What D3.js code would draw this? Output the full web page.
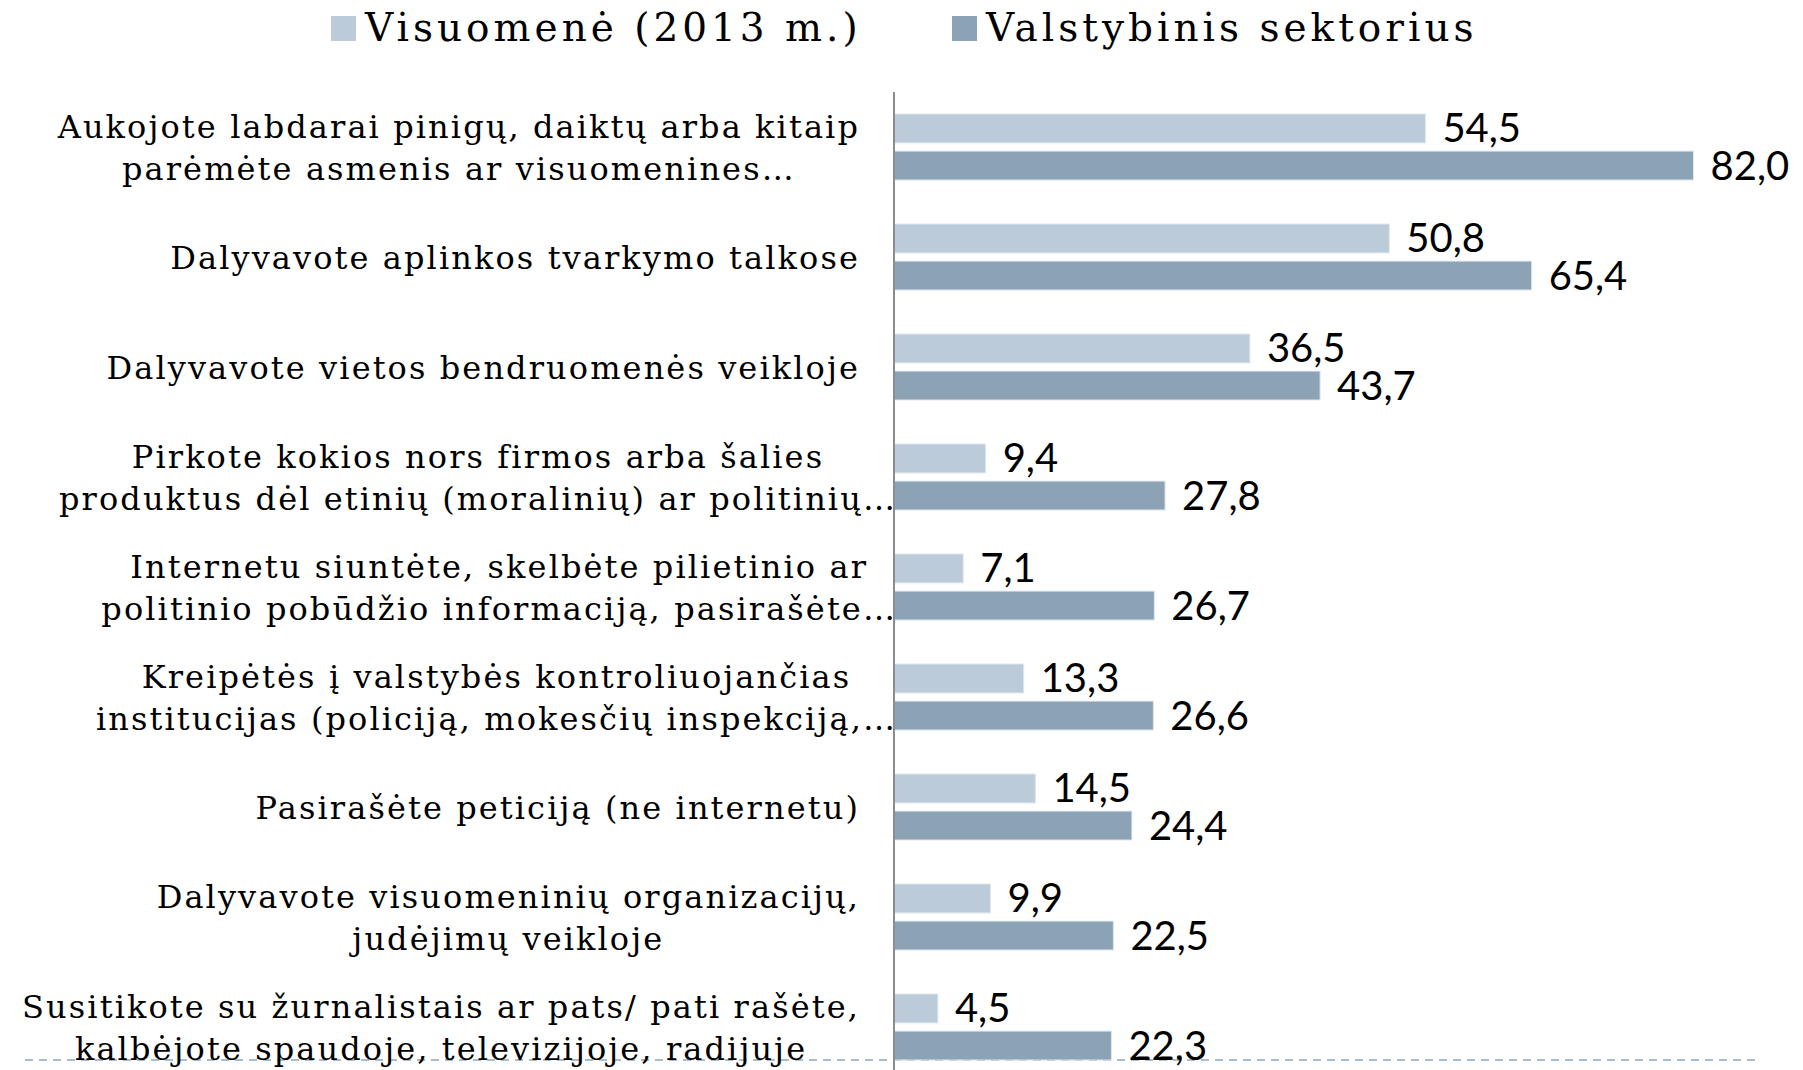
<!DOCTYPE html>
<html>
<head>
<meta charset="utf-8">
<script src="https://cdn.jsdelivr.net/npm/d3@7"></script>
<style>
  body { margin: 0; background: #fff; }
  svg { display: block; }
</style>
</head>
<body>
<script>
// chart data
const categories = [
    ['Aukojote labdarai pinigų, daiktų arba kitaip', 'parėmėte asmenis ar visuomenines…'],
    ['Dalyvavote aplinkos tvarkymo talkose'],
    ['Dalyvavote vietos bendruomenės veikloje'],
    ['Pirkote kokios nors firmos arba šalies', 'produktus dėl etinių (moralinių) ar politinių…'],
    ['Internetu siuntėte, skelbėte pilietinio ar', 'politinio pobūdžio informaciją,  pasirašėte…'],
    ['Kreipėtės į valstybės kontroliuojančias', 'institucijas (policiją, mokesčių inspekciją,…'],
    ['Pasirašėte peticiją (ne internetu)'],
    ['Dalyvavote visuomeninių organizacijų,', 'judėjimų veikloje'],
    ['Susitikote su žurnalistais ar pats/ pati rašėte,', 'kalbėjote spaudoje, televizijoje, radijuje']
]
const seriesNames = ['Visuomenė (2013 m.)', 'Valstybinis sektorius']
const visuomene = [54.5, 50.8, 36.5, 9.4, 7.1, 13.3, 14.5, 9.9, 4.5]
const valstybinis = [82.0, 65.4, 43.7, 27.8, 26.7, 26.6, 24.4, 22.5, 22.3]
const seriesColors = ['#bccbda', '#8ca2b5']

const width = 1803, height = 1070
const axisX = 894
const labelRight = 860

var svg = d3.select('body')
    .append('svg')
    .attr('width', width)
    .attr('height', height)

var rows = categories.map((c, i) => ({ idx: i, lines: c, values: [visuomene[i], valstybinis[i]] }))

var x = d3.scaleLinear()
    .domain([0, 100])
    .range([axisX, axisX + 975])

var y = d3.scaleBand()
    .domain(d3.range(categories.length))
    .range([92, 92 + 110 * categories.length])
    .paddingInner(0.4)
    .paddingOuter(0.2)

var ySub = d3.scaleBand()
    .domain([0, 1])
    .range([0, y.bandwidth()])
    .paddingInner(0.22)

var fmt = v => d3.format('.1f')(v).replace('.', ',')

// dashed slide line at the bottom
svg.append('line')
    .attr('x1', 25)
    .attr('x2', 1756)
    .attr('y1', 1060)
    .attr('y2', 1060)
    .style('stroke', '#a9bdd0')
    .style('stroke-width', 2)
    .style('stroke-dasharray', '8,6')

// legend
var legend = svg.append('g')
var legendX = [331, 952]
seriesNames.forEach(function (name, i) {
    legend.append('rect')
        .attr('x', legendX[i])
        .attr('y', 16)
        .attr('width', 25)
        .attr('height', 25)
        .style('fill', seriesColors[i])
    legend.append('text')
        .attr('x', legendX[i] + 34)
        .attr('y', 41)
        .style('font-family', '"DejaVu Serif", serif')
        .style('font-size', '39px')
        .style('letter-spacing', '4px')
        .style('fill', '#000')
        .text(name)
})

// bars
var groups = svg.selectAll('.group')
    .data(rows)
    .enter()
    .append('g')
    .attr('class', 'group')
    .attr('transform', d => 'translate(0,' + y(d.idx) + ')')

groups.selectAll('rect')
    .data(d => d.values.map((v, j) => ({ v: v, j: j })))
    .enter()
    .append('rect')
    .attr('x', x(0))
    .attr('y', d => ySub(d.j))
    .attr('width', d => x(d.v) - x(0))
    .attr('height', ySub.bandwidth())
    .style('fill', d => seriesColors[d.j])
    .style('stroke', '#dfe7ef')
    .style('stroke-width', 1)

groups.selectAll('.value')
    .data(d => d.values.map((v, j) => ({ v: v, j: j })))
    .enter()
    .append('text')
    .attr('class', 'value')
    .attr('x', d => x(d.v) + 17)
    .attr('y', d => ySub(d.j) + ySub.bandwidth() / 2 + 14)
    .style('font-family', 'Lato, sans-serif')
    .style('font-size', '40px')
    .style('fill', '#000')
    .text(d => fmt(d.v))

// category labels
var catFont = 32
var lineH = 42.5
var labels = groups.append('text')
    .attr('class', 'cat')
    .style('font-family', '"DejaVu Serif", serif')
    .style('font-size', catFont + 'px')
    .style('letter-spacing', '2.1px')
    .style('fill', '#000')
    .attr('text-anchor', 'middle')

labels.selectAll('tspan')
    .data(d => d.lines.map((t, k) => ({ t: t, k: k, n: d.lines.length })))
    .enter()
    .append('tspan')
    .attr('y', d => y.bandwidth() / 2 + (d.k - (d.n - 1) / 2) * lineH + 12)
    .text(d => d.t)

labels.each(function () {
    var spans = d3.select(this).selectAll('tspan').nodes()
    var widest = spans[0], maxW = 0
    spans.forEach(function (s) {
        var w = s.getComputedTextLength()
        if (w > maxW) { maxW = w; widest = s }
    })
    var right = widest.textContent.endsWith('…') ? axisX + 3 : labelRight
    d3.select(this).selectAll('tspan').attr('x', right - maxW / 2)
})

// vertical axis line
svg.append('line')
    .attr('x1', axisX)
    .attr('x2', axisX)
    .attr('y1', 92)
    .attr('y2', height)
    .style('stroke', '#8c8c8c')
    .style('stroke-width', 2)
</script>
</body>
</html>
